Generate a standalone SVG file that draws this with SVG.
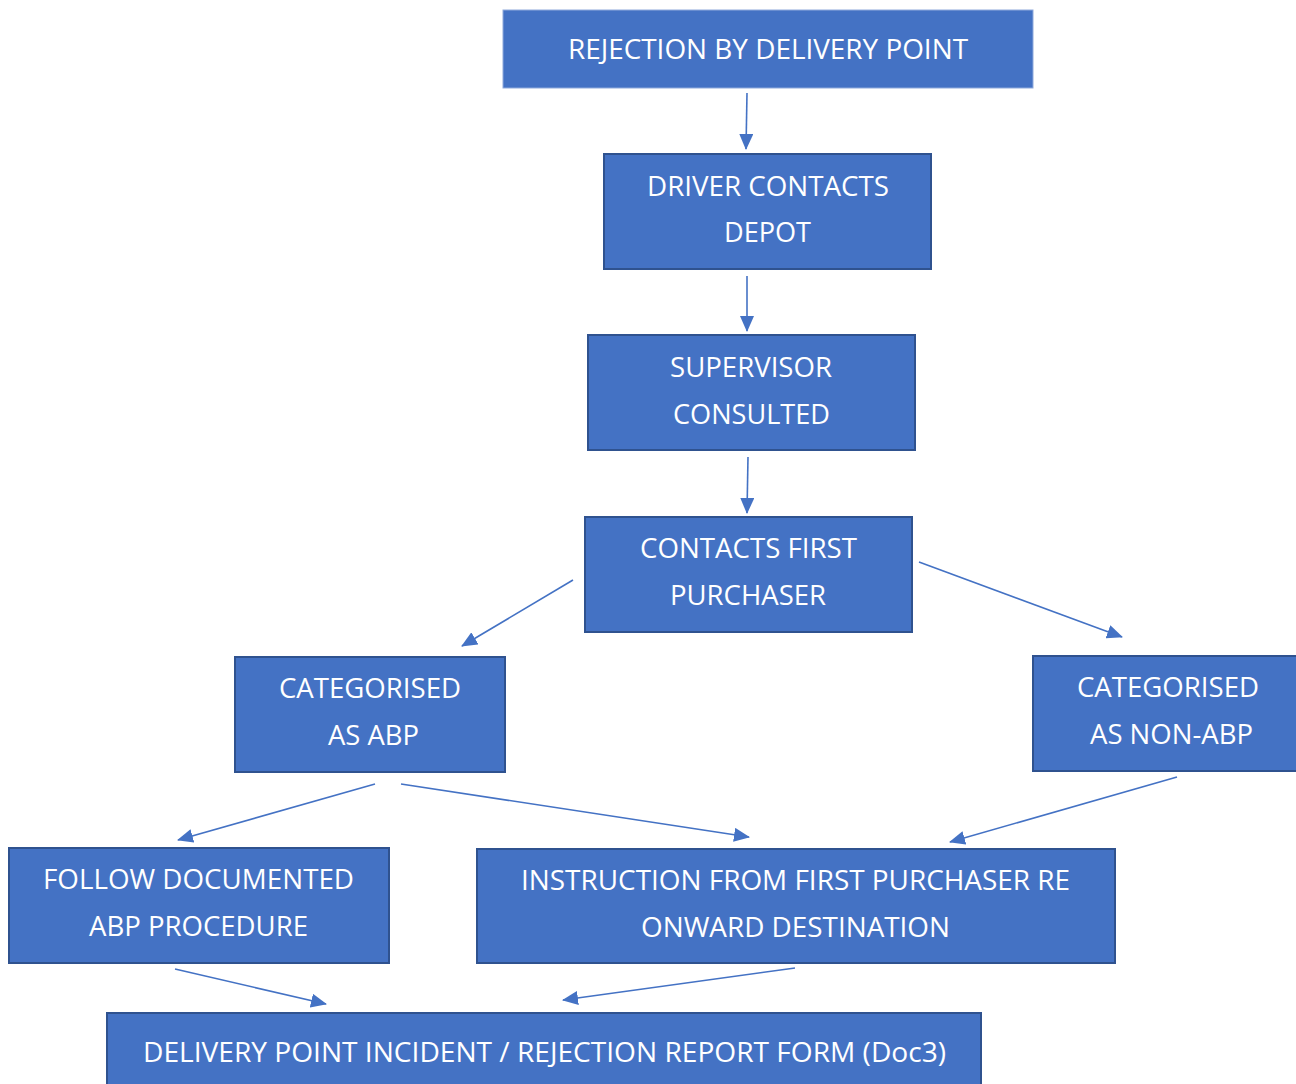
<svg xmlns="http://www.w3.org/2000/svg" width="1296" height="1084" viewBox="0 0 1296 1084">
<style>
.box{fill:#4472C4;stroke:#2F528F;stroke-width:2}
.top{fill:#4472C4;stroke:#8FAADC;stroke-width:1}
.t{font-family:"Open Sans","Noto Sans",sans-serif;font-size:28px;fill:#FFFFFF}
.c{stroke:#4472C4;stroke-width:1.6;fill:none;marker-end:url(#ah)}
</style>
<defs>
<marker id="ah" viewBox="0 0 16 14" refX="15" refY="7" markerWidth="16" markerHeight="14" markerUnits="userSpaceOnUse" orient="auto">
<path d="M0,0 L16,7 L0,14 Z" fill="#4472C4"/>
</marker>
</defs>
<rect width="1296" height="1084" fill="#FFFFFF"/>
<g id="connectors">
<line class="c" x1="747" y1="93" x2="746" y2="149"/>
<line class="c" x1="747" y1="276" x2="747" y2="331"/>
<line class="c" x1="748" y1="457" x2="747" y2="513"/>
<line class="c" x1="573" y1="580" x2="462" y2="646"/>
<line class="c" x1="919" y1="562" x2="1122" y2="637"/>
<line class="c" x1="375" y1="784" x2="178" y2="840"/>
<line class="c" x1="401" y1="784" x2="749" y2="837"/>
<line class="c" x1="1177" y1="777" x2="950" y2="842"/>
<line class="c" x1="175" y1="969" x2="326" y2="1004"/>
<line class="c" x1="795" y1="968" x2="563" y2="1000"/>
</g>
<g id="n1"><rect class="top" x="503" y="10" width="530" height="78"/><text class="t" x="768" y="59" text-anchor="middle" textLength="400" lengthAdjust="spacingAndGlyphs">REJECTION BY DELIVERY POINT</text></g>
<g id="n2"><rect class="box" x="604" y="154" width="327" height="115"/><text class="t" x="768" y="196" text-anchor="middle" textLength="242" lengthAdjust="spacingAndGlyphs">DRIVER CONTACTS</text><text class="t" x="767.5" y="242" text-anchor="middle" textLength="87" lengthAdjust="spacingAndGlyphs">DEPOT</text></g>
<g id="n3"><rect class="box" x="588" y="335" width="327" height="115"/><text class="t" x="751" y="377" text-anchor="middle" textLength="162" lengthAdjust="spacingAndGlyphs">SUPERVISOR</text><text class="t" x="751.5" y="424" text-anchor="middle" textLength="157" lengthAdjust="spacingAndGlyphs">CONSULTED</text></g>
<g id="n4"><rect class="box" x="585" y="517" width="327" height="115"/><text class="t" x="748.5" y="558" text-anchor="middle" textLength="217" lengthAdjust="spacingAndGlyphs">CONTACTS FIRST</text><text class="t" x="748" y="605" text-anchor="middle" textLength="156" lengthAdjust="spacingAndGlyphs">PURCHASER</text></g>
<g id="n5"><rect class="box" x="235" y="657" width="270" height="115"/><text class="t" x="370" y="698" text-anchor="middle" textLength="182" lengthAdjust="spacingAndGlyphs">CATEGORISED</text><text class="t" x="373.5" y="745" text-anchor="middle" textLength="91" lengthAdjust="spacingAndGlyphs">AS ABP</text></g>
<g id="n6"><rect class="box" x="1033" y="656" width="270" height="115"/><text class="t" x="1168" y="697" text-anchor="middle" textLength="182" lengthAdjust="spacingAndGlyphs">CATEGORISED</text><text class="t" x="1171.5" y="744" text-anchor="middle" textLength="163" lengthAdjust="spacingAndGlyphs">AS NON-ABP</text></g>
<g id="n7"><rect class="box" x="9" y="848" width="380" height="115"/><text class="t" x="198.5" y="889" text-anchor="middle" textLength="311" lengthAdjust="spacingAndGlyphs">FOLLOW DOCUMENTED</text><text class="t" x="198.5" y="936" text-anchor="middle" textLength="219" lengthAdjust="spacingAndGlyphs">ABP PROCEDURE</text></g>
<g id="n8"><rect class="box" x="477" y="849" width="638" height="114"/><text class="t" x="795.5" y="890" text-anchor="middle" textLength="549" lengthAdjust="spacingAndGlyphs">INSTRUCTION FROM FIRST PURCHASER RE</text><text class="t" x="795.5" y="937" text-anchor="middle" textLength="309" lengthAdjust="spacingAndGlyphs">ONWARD DESTINATION</text></g>
<g id="n9"><rect class="box" x="107" y="1013" width="874" height="80"/><text class="t" x="544.5" y="1062" text-anchor="middle" textLength="803" lengthAdjust="spacingAndGlyphs">DELIVERY POINT INCIDENT / REJECTION REPORT FORM (Doc3)</text></g>
</svg>
